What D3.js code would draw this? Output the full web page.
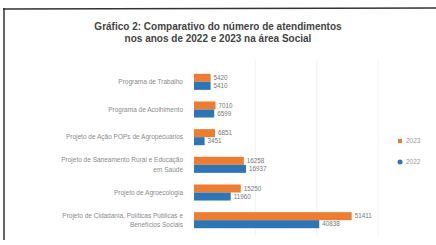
<!DOCTYPE html>
<html>
<head>
<meta charset="utf-8">
<script src="https://cdn.jsdelivr.net/npm/d3@7"></script>
<style>
  body { margin: 0; background: #fff; }
  svg { font-family: "Liberation Sans", Arial, sans-serif; }
</style>
</head>
<body>
<div id="chart-area"></div>
<script>
var categories = [
  "Programa de Trabalho",
  "Programa de Acolhimento",
  "Projeto de Ação POPs de Agropecuários",
  "Projeto de Saneamento Rural e Educação|em Saúde",
  "Projeto de Agroecologia",
  "Projeto de Cidadania, Políticas Públicas e|Benefícios Sociais"
];
var seriesNames = ["2023", "2022"];
var values2023 = [5420, 7010, 6851, 16258, 15250, 51411];
var values2022 = [5410, 6599, 3451, 16937, 11960, 40838];
var gridTicks = [20000, 40000, 60000];

var colors = { "2023": "#ed7d31", "2022": "#2e75b6" };

var svg = d3.select("#chart-area")
  .append("svg")
  .attr("width", 436)
  .attr("height", 245);

// scanned frame
svg.append("line").attr("x1", 3).attr("x2", 436).attr("y1", 9).attr("y2", 8)
  .attr("stroke", "#333").attr("stroke-width", 1.5);
svg.append("line").attr("x1", 4).attr("x2", 4).attr("y1", 8).attr("y2", 240)
  .attr("stroke", "#333").attr("stroke-width", 1.5);

// title
svg.append("text")
  .attr("x", 218).attr("y", 30)
  .attr("text-anchor", "middle")
  .attr("font-size", "10px").attr("font-weight", "bold")
  .attr("fill", "#444")
  .text("Gráfico 2: Comparativo do número de atendimentos");
svg.append("text")
  .attr("x", 218).attr("y", 42)
  .attr("text-anchor", "middle")
  .attr("font-size", "10px").attr("font-weight", "bold")
  .attr("fill", "#444")
  .text("nos anos de 2022 e 2023 na área Social");

var data = categories.map((c, i) => ({
  cat: c,
  vals: [
    { s: "2023", v: values2023[i] },
    { s: "2022", v: values2022[i] }
  ]
}));

var x = d3.scaleLinear()
  .domain([0, 60000])
  .range([194, 378]);

var y = d3.scaleBand()
  .domain(categories)
  .range([68, 234])
  .paddingInner(0.42)
  .paddingOuter(0.21);

var ySub = d3.scaleBand()
  .domain(seriesNames)
  .range([0, y.bandwidth()]);

// grid
svg.selectAll(".grid")
  .data(gridTicks)
  .enter()
  .append("line")
  .attr("class", "grid")
  .attr("x1", d => x(d)).attr("x2", d => x(d))
  .attr("y1", 60).attr("y2", 236)
  .attr("stroke", "#f3f3f3")
  .attr("stroke-width", 1);

// category labels
var labels = svg.selectAll(".cat-label")
  .data(data)
  .enter()
  .append("text")
  .attr("class", "cat-label")
  .attr("text-anchor", "end")
  .attr("font-size", "6.5px")
  .attr("fill", "#8a8a8a");
labels.each(function(d) {
  var lines = d.cat.split("|");
  var cy = y(d.cat) + y.bandwidth() / 2;
  var t = d3.select(this);
  lines.forEach((ln, k) => {
    t.append("tspan")
      .attr("x", 183)
      .attr("y", cy + 2.3 + (k - (lines.length - 1) / 2) * 9.5)
      .text(ln);
  });
});

var groups = svg.selectAll(".grp")
  .data(data)
  .enter()
  .append("g")
  .attr("class", "grp")
  .attr("transform", d => "translate(0," + y(d.cat) + ")");

groups.selectAll("rect")
  .data(d => d.vals)
  .enter()
  .append("rect")
  .attr("x", x(0))
  .attr("y", d => ySub(d.s))
  .attr("width", d => x(d.v) - x(0))
  .attr("height", ySub.bandwidth())
  .attr("fill", d => colors[d.s]);

groups.selectAll(".val")
  .data(d => d.vals)
  .enter()
  .append("text")
  .attr("class", "val")
  .attr("x", d => x(d.v) + 3)
  .attr("y", d => ySub(d.s) + ySub.bandwidth() / 2 + 2.2)
  .attr("font-size", "6.3px")
  .attr("fill", "#777")
  .text(d => d.v);

// legend
var legendY = { "2023": 141, "2022": 162 };
seriesNames.forEach(s => {
  if (s === "2023") {
    svg.append("rect")
      .attr("x", 398).attr("y", legendY[s] - 2)
      .attr("width", 4).attr("height", 4)
      .attr("fill", colors[s]);
  } else {
    svg.append("circle")
      .attr("cx", 400).attr("cy", legendY[s])
      .attr("r", 2.5)
      .attr("fill", colors[s]);
  }
  svg.append("text")
    .attr("x", 406).attr("y", legendY[s] + 2.2)
    .attr("font-size", "6.5px")
    .attr("fill", "#999")
    .text(s);
});
</script>
</body>
</html>
